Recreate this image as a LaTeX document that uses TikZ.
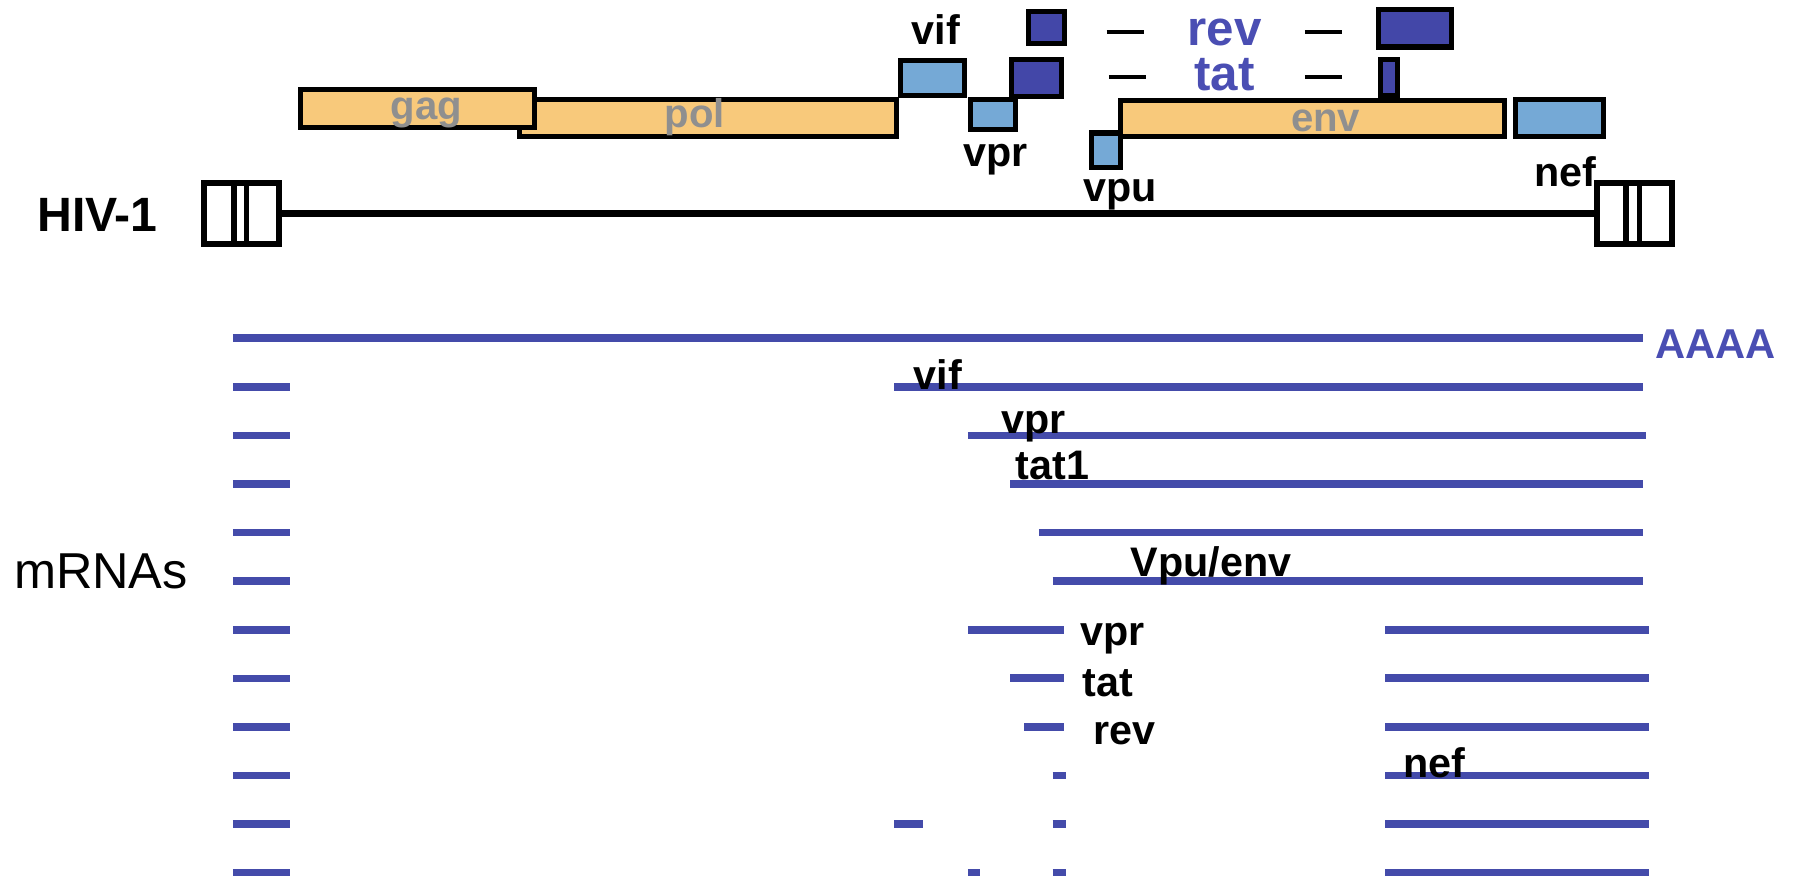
\documentclass[tikz,border=0pt]{standalone}
\usepackage{fontspec}
\setmainfont{Liberation Sans}
\usetikzlibrary{fit}
\definecolor{orf}{HTML}{F8C97B}
\definecolor{acc}{HTML}{75A9D6}
\definecolor{reg}{HTML}{4347A8}
\definecolor{rna}{HTML}{444BAA}
\definecolor{orftext}{HTML}{8F8F8F}
\definecolor{regtext}{HTML}{4A4EB3}
\begin{document}
\begin{tikzpicture}[x=0.5pt,y=-0.5pt,
  box/.style={draw=black, line width=2.2pt, inner sep=0pt, outer sep=0pt},
  structural/.style={box, fill=orf},
  accessory/.style={box, fill=acc},
  regulatory/.style={box, fill=reg},
  ltr/.style={draw=black, line width=2.6pt, fill=white, inner sep=0pt, outer sep=0pt},
  genome/.style={line width=3pt},
  mrna/.style={draw=rna, line width=3.3pt},
  gname/.style={font=\fontsize{17.5}{18}\selectfont\bfseries, text=orftext, anchor=base, inner sep=0pt},
  lbl/.style={font=\fontsize{18}{18}\selectfont\bfseries, anchor=base, inner sep=0pt},
  reglbl/.style={font=\fontsize{21.5}{22}\selectfont\bfseries, text=regtext, anchor=base, inner sep=0pt, text depth=0pt, text height=11pt},
  dashmark/.style={line width=1.7pt},
]
\useasboundingbox (0,0) rectangle (1568,766);

% ---- open reading frames ----
\node[structural, fit={(453,87) (782,119)}] (pol) {};
\node[structural, fit={(262,78) (466,111)}] (gag) {};
\node[accessory, fit={(785,53) (841,83)}] (vif) {};
\node[accessory, fit={(846,87) (886,113)}] (vpr) {};
\node[structural, fit={(977,88) (1312,119)}] (env) {};
\node[accessory, fit={(952,116) (977,146)}] (vpu) {};
\node[accessory, fit={(1322,87) (1398,119)}] (nef) {};
\node[regulatory, fit={(897,10) (928,38)}] (rev1) {};
\node[regulatory, fit={(882,52) (926,84)}] (tat1) {};
\node[regulatory, fit={(1202,8) (1266,41)}] (rev2) {};
\node[regulatory, fit={(1204,52) (1219,83)}] (tat2) {};

% splice marks between the two exons of rev and tat
\draw[dashmark] (965,28) -- (998,28);
\draw[dashmark] (1138,28) -- (1170,28);
\draw[dashmark] (967,67) -- (999,67);
\draw[dashmark] (1138,67) -- (1170,67);

% ---- gene names ----
\node[gname] (tgag) at (372,104) {gag};
\node[gname] (tpol) at (606,111) {pol};
\node[gname] (tenv) at (1156,115) {env};
\node[lbl] (tvif) at (816,39) {vif};
\node[lbl] (tvpr) at (868,145) {vpr};
\node[lbl] (tvpu) at (977,176) {vpu};
\node[lbl] (tnef) at (1365,163) {nef};
\node[reglbl] (trev) at (1068,40) {rev};
\node[reglbl] (ttat) at (1068,79) {tat};

% ---- proviral genome with LTRs ----
\node[ltr, fit={(178,160) (243,213)}] (ltrL) {};
\node[ltr, fit={(1393,160) (1458,213)}] (ltrR) {};
\draw[line width=2.3pt] (204,160) -- (204,213) (215,160) -- (215,213);
\draw[line width=2.3pt] (1418,160) -- (1418,213) (1430,160) -- (1430,213);
\draw[genome] (ltrL.east) -- (ltrR.west);
\node[font=\fontsize{21}{21}\selectfont\bfseries, anchor=base, inner sep=0pt] (hiv) at (85,202) {HIV-1};

% ---- transcripts ----
\node[font=\fontsize{22}{22}\selectfont, anchor=base, inner sep=0pt] (mrnas) at (88,513) {mRNAs};

\draw[mrna] (203,295) -- (1433,295);
\node[font=\fontsize{18.2}{18}\selectfont\bfseries, text=regtext, anchor=base, inner sep=0pt] (polya) at (1496,313) {AAAA};

% common 5' leader exon
\foreach \k in {1,...,11} {
  \draw[mrna] (203,{295+\k*42.36}) -- (253,{295+\k*42.36});
}

% unspliced / singly spliced
\draw[mrna] (780,337.4) -- (1433,337.4);
\draw[mrna] (844,379.7) -- (1435,379.7);
\draw[mrna] (881,422.1) -- (1433,422.1);
\draw[mrna] (906,464.4) -- (1433,464.4);
\draw[mrna] (918,506.8) -- (1433,506.8);

% multiply spliced
\draw[mrna] (844,549.2) -- (928,549.2);  \draw[mrna] (1208,549.2) -- (1438,549.2);
\draw[mrna] (881,591.5) -- (928,591.5);  \draw[mrna] (1208,591.5) -- (1438,591.5);
\draw[mrna] (893,633.9) -- (928,633.9);  \draw[mrna] (1208,633.9) -- (1438,633.9);
\draw[mrna] (918,676.2) -- (930,676.2);  \draw[mrna] (1208,676.2) -- (1438,676.2);
\draw[mrna] (780,718.6) -- (805,718.6);  \draw[mrna] (918,718.6) -- (930,718.6);  \draw[mrna] (1208,718.6) -- (1438,718.6);
\draw[mrna] (844,761) -- (855,761);  \draw[mrna] (918,761) -- (930,761);  \draw[mrna] (1208,761) -- (1438,761);

% transcript names
\node[lbl] (mvif) at (818,340) {vif};
\node[lbl] (mvpr) at (901,378) {vpr};
\node[lbl] (mtat1) at (918,418) {tat1};
\node[lbl] (mvpuenv) at (1056,503) {Vpu/env};
\node[lbl] (mvpr2) at (970,563) {vpr};
\node[lbl] (mtat) at (966,607) {tat};
\node[lbl] (mrev) at (981,649) {rev};
\node[lbl] (mnef) at (1251,678) {nef};
\end{tikzpicture}
\end{document}
